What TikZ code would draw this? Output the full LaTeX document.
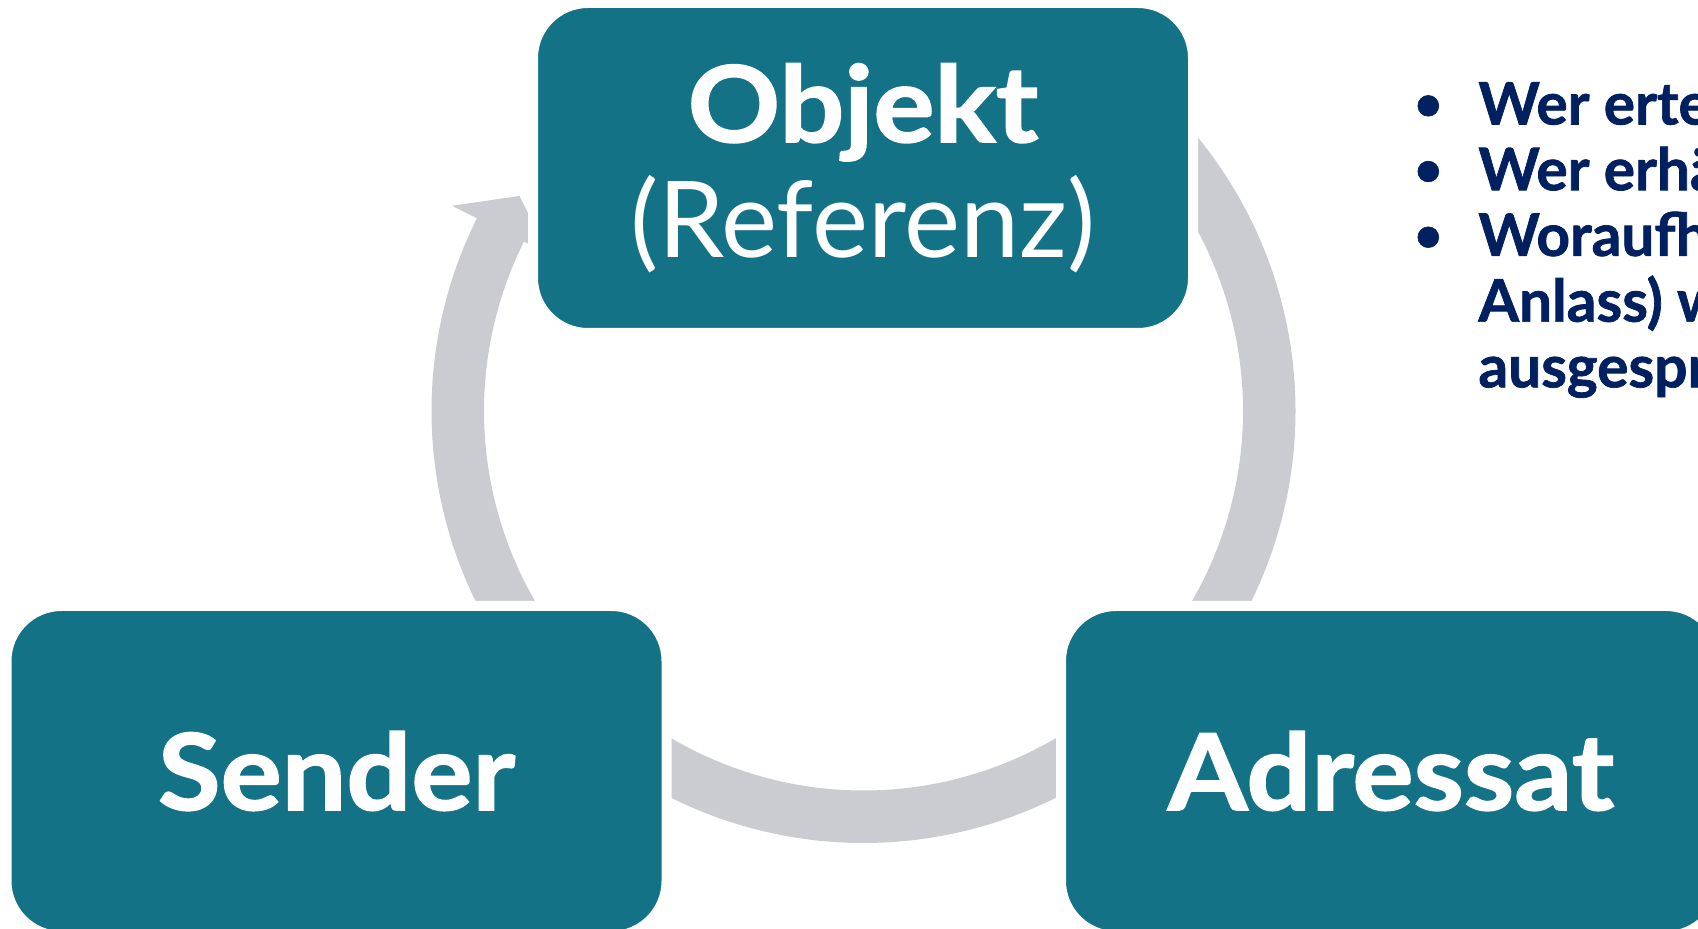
\documentclass[tikz,border=0pt]{standalone}
\usepackage{fontspec}
\setmainfont{Lato}
\newfontfamily\heavyfont{Lato}[BoldFeatures={FakeBold=1.5, FakeStretch=1.08}]
\newfontfamily\qfont{Lato}[BoldFeatures={FakeBold=1.2}]
\newcommand\qbullet{\hspace*{-2pt}\raisebox{2.2pt}{\fontsize{24}{24}\selectfont\textbullet}}
\definecolor{boxteal}{HTML}{137286}
\definecolor{ringgrey}{HTML}{CBCCD1}
\definecolor{qnavy}{HTML}{002060}
\begin{document}
\begin{tikzpicture}[x=0.5pt,y=0.5pt,
  box/.style={rectangle, rounded corners=27.5pt, fill=boxteal, draw=white,
    line width=5pt, minimum width=330pt, minimum height=165pt, inner sep=0pt,
    text=white, align=center, font=\fontsize{53}{57.5}\selectfont\heavyfont\bfseries},
  ring/.style={fill=ringgrey, draw=none}]
\clip (0,0) rectangle (1698,928);
\coordinate (C) at (863.5,517);
% Sender -> Objekt (with visible arrow head)
\fill[ring] ([shift={(215:432)}]C) arc[start angle=215, end angle=153.5, radius=432]
  -- ([shift={(153.5:460)}]C) -- ([shift={(148:405.75)}]C)
  -- ([shift={(153.5:351.5)}]C) -- ([shift={(153.5:379.5)}]C)
  arc[start angle=153.5, end angle=215, radius=379.5] -- cycle;
% Objekt -> Adressat
\fill[ring] ([shift={(60:432)}]C) arc[start angle=60, end angle=-40, radius=432]
  -- ([shift={(-40:379.5)}]C) arc[start angle=-40, end angle=60, radius=379.5] -- cycle;
% Adressat -> Sender
\fill[ring] ([shift={(-35:432)}]C) arc[start angle=-35, end angle=-145, radius=432]
  -- ([shift={(-145:379.5)}]C) arc[start angle=-145, end angle=-35, radius=379.5] -- cycle;
% boxes
\node[box] (obj) at (863,760) {Objekt\\{\mdseries (Referenz)}};
\node[box] (snd) at (336.5,157) {Sender};
\node[box] (adr) at (1391,157) {Adressat};
% questions
\node[anchor=base west, inner sep=0pt, text=qnavy,
  font=\fontsize{29.3}{32.85}\selectfont\qfont\bfseries] (q) at (1418,803.5)
  {\begin{tabular}[t]{@{}p{30pt}@{}l@{}}
   \qbullet & Wer erteilt\\
   \qbullet & Wer erhält\\
   \qbullet & Woraufhin\\
            & Anlass) wird\\
            & ausgesprochen
   \end{tabular}};
\end{tikzpicture}
\end{document}
